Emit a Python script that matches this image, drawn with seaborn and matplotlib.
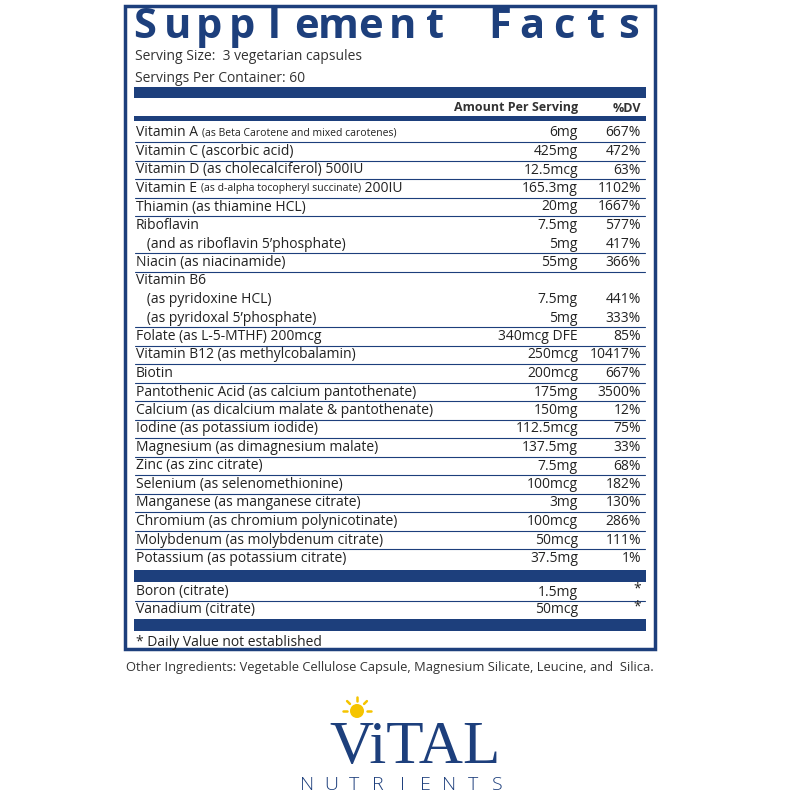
import numpy as np
import matplotlib
matplotlib.use("Agg")
import matplotlib.pyplot as plt
import matplotlib.patches as patches
import seaborn as sns

sns.set_theme(style="white")
plt.rcParams['font.family'] = ['Open Sans', 'DejaVu Sans']

BLUE = "#1d3f7c"

# (main text, small part, suffix)
names = [
    ("Vitamin A ", "(as Beta Carotene and mixed carotenes)", ""),
    ("Vitamin C (ascorbic acid)", "", ""),
    ("Vitamin D (as cholecalciferol) 500IU", "", ""),
    ("Vitamin E ", "(as d-alpha tocopheryl succinate)", " 200IU"),
    ("Thiamin (as thiamine HCL)", "", ""),
    ("Riboflavin", "", ""),
    ("   (and as riboflavin 5\u2019phosphate)", "", ""),
    ("Niacin (as niacinamide)", "", ""),
    ("Vitamin B6", "", ""),
    ("   (as pyridoxine HCL)", "", ""),
    ("   (as pyridoxal 5\u2019phosphate)", "", ""),
    ("Folate (as L-5-MTHF) 200mcg", "", ""),
    ("Vitamin B12 (as methylcobalamin)", "", ""),
    ("Biotin", "", ""),
    ("Pantothenic Acid (as calcium pantothenate)", "", ""),
    ("Calcium (as dicalcium malate & pantothenate)", "", ""),
    ("Iodine (as potassium iodide)", "", ""),
    ("Magnesium (as dimagnesium malate)", "", ""),
    ("Zinc (as zinc citrate)", "", ""),
    ("Selenium (as selenomethionine)", "", ""),
    ("Manganese (as manganese citrate)", "", ""),
    ("Chromium (as chromium polynicotinate)", "", ""),
    ("Molybdenum (as molybdenum citrate)", "", ""),
    ("Potassium (as potassium citrate)", "", ""),
]
amounts = ["6mg", "425mg", "12.5mcg", "165.3mg", "20mg", "7.5mg", "5mg", "55mg", "",
           "7.5mg", "5mg", "340mcg DFE", "250mcg", "200mcg", "175mg", "150mg",
           "112.5mcg", "137.5mg", "7.5mg", "100mcg", "3mg", "100mcg", "50mcg", "37.5mg"]
dvs = ["667%", "472%", "63%", "1102%", "1667%", "577%", "417%", "366%", "",
       "441%", "333%", "85%", "10417%", "667%", "3500%", "12%", "75%", "33%",
       "68%", "182%", "130%", "286%", "111%", "1%"]
continuation = [6, 9, 10]

extra_names = ["Boron (citrate)", "Vanadium (citrate)"]
extra_amounts = ["1.5mg", "50mcg"]
extra_dvs = ["*", "*"]

fig = plt.figure(figsize=(8, 8), dpi=100)
ax = fig.add_axes([0, 0, 1, 1])
ax.set_xlim(0, 800)
ax.set_ylim(800, 0)
ax.axis("off")
fig.canvas.draw()
r = fig.canvas.get_renderer()

# outer box
ax.add_patch(patches.Rectangle((125, 6), 530, 643, fill=False, ec=BLUE, lw=2.5))

# title letters spread across the box
title = "Supplement Facts"
xs = np.linspace(145, 628, len(title))
for ch, x in zip(title, xs):
    ax.text(x, 28, ch, fontsize=30, fontweight="bold", color=BLUE, ha="center", va="center")
ax.text(135, 57, "Serving Size:  3 vegetarian capsules", fontsize=10, color="#333333", va="center")
ax.text(135, 79, "Servings Per Container: 60", fontsize=10, color="#333333", va="center")

ax.add_patch(patches.Rectangle((134, 87), 512, 11, color=BLUE, lw=0))
ax.text(578, 108, "Amount Per Serving", fontsize=9, fontweight="bold", color="#333333", ha="right", va="center")
ax.text(641, 108, "%DV", fontsize=9, fontweight="bold", color="#333333", ha="right", va="center")
ax.add_patch(patches.Rectangle((134, 116), 512, 5, color=BLUE, lw=0))

def put_name(x, y, parts):
    for i, p in enumerate(parts):
        if not p:
            continue
        t = ax.text(x, y, p, fontsize=7.5 if i == 1 else 10, color="#222222", va="center")
        bb = t.get_window_extent(renderer=r)
        x += bb.width

y0, step = 133, 18.5
for i, (nm, am, dv) in enumerate(zip(names, amounts, dvs)):
    y = y0 + i * step
    if i > 0 and i not in continuation:
        ax.plot([135, 645], [y - step / 2, y - step / 2], color=BLUE, lw=0.8)
    put_name(136, y, nm)
    ax.text(578, y, am, fontsize=10, color="#222222", ha="right", va="center")
    ax.text(641, y, dv, fontsize=10, color="#222222", ha="right", va="center")

ax.add_patch(patches.Rectangle((134, 570), 512, 12, color=BLUE, lw=0))
for i, (nm, am, dv) in enumerate(zip(extra_names, extra_amounts, extra_dvs)):
    y = 592 + i * 17.5
    if i > 0:
        ax.plot([135, 645], [y - 8.5, y - 8.5], color=BLUE, lw=0.8)
    ax.text(136, y, nm, fontsize=10, color="#222222", va="center")
    ax.text(578, y, am, fontsize=10, color="#222222", ha="right", va="center")
    ax.text(641, y - 3, dv, fontsize=10, color="#222222", ha="right", va="center")
ax.add_patch(patches.Rectangle((134, 619), 512, 12, color=BLUE, lw=0))
ax.text(136, 642, "* Daily Value not established", fontsize=10, color="#222222", va="center")

ax.text(126, 667, "Other Ingredients: Vegetable Cellulose Capsule, Magnesium Silicate, Leucine, and  Silica.",
        fontsize=9.3, color="#333333", va="center")

# logo
ax.add_patch(patches.Circle((357, 711), 7, color="#f5c400", lw=0))
for a in np.linspace(0, 2 * np.pi, 8, endpoint=False):
    if np.sin(a) > 0.5:
        continue
    ax.plot([357 + 10 * np.cos(a), 357 + 14 * np.cos(a)],
            [711 + 10 * np.sin(a), 711 + 14 * np.sin(a)], color="#f5c400", lw=1.8)
ax.text(415, 748, "ViTAL", fontsize=44, family=["Liberation Serif", "DejaVu Serif"],
        color=BLUE, ha="center", va="center")
nut = "NUTRIENTS"
for ch, x in zip(nut, np.linspace(307, 497, len(nut))):
    ax.text(x, 785, ch, fontsize=14, color=BLUE, ha="center", va="center", fontweight="light")

fig.savefig("out.png", dpi=100, facecolor="white")
